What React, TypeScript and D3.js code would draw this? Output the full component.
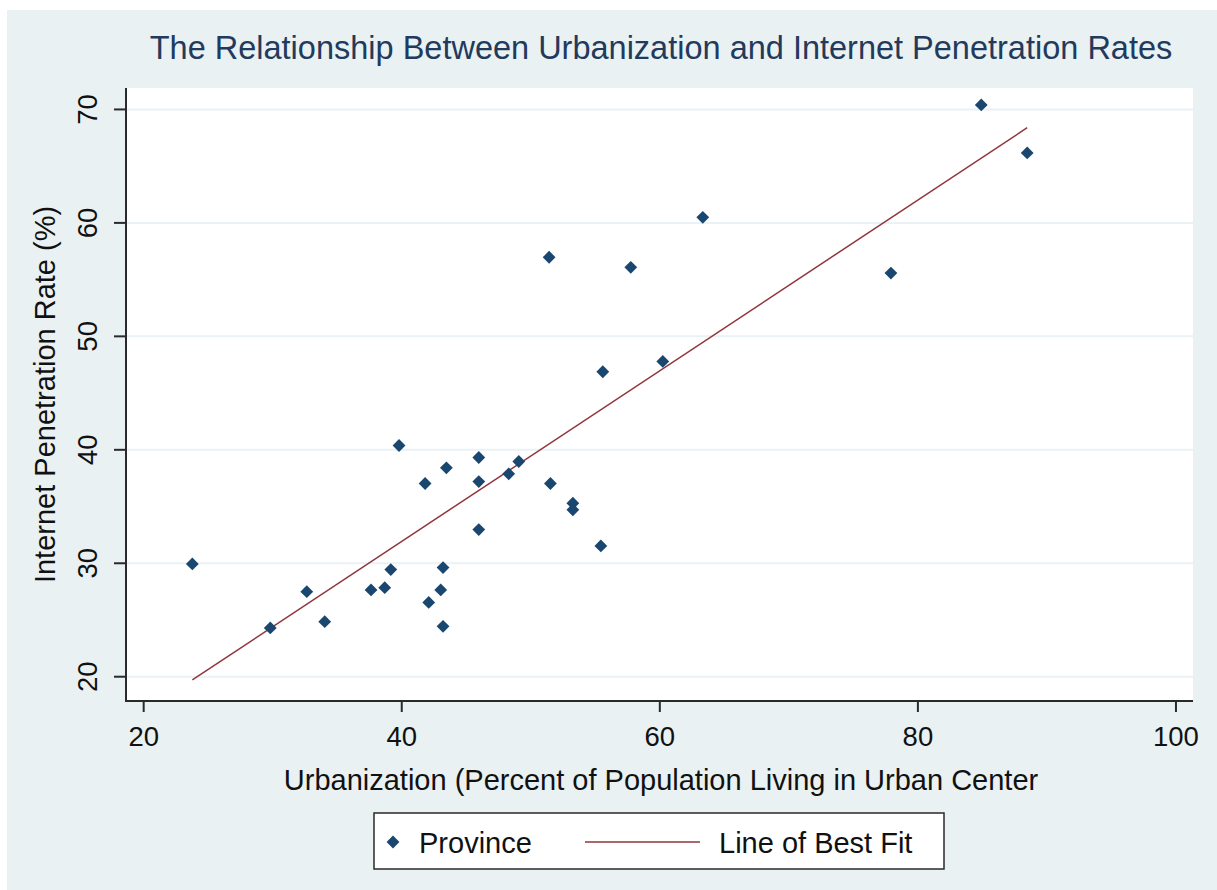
import React from 'react';
import * as d3 from 'd3';

// urbanization (% of population in urban centres) per province
const urbanization = [
  23.77, 29.81, 32.64, 34.03, 37.62, 38.68, 39.15, 39.79, 41.81, 42.09, 43.46,
  43.02, 43.2, 43.2, 45.97, 45.97, 45.97, 48.29, 49.07, 51.52, 53.26, 53.26,
  55.43, 51.42, 55.58, 57.75, 60.23, 63.33, 77.91, 84.91, 88.47,
];
// internet penetration rate (%) per province
const internetRate = [
  29.94, 24.3, 27.5, 24.85, 27.65, 27.85, 29.44, 40.38, 37.03, 26.55, 38.41,
  27.65, 29.62, 24.44, 39.32, 37.2, 32.97, 37.88, 38.97, 37.03, 35.29, 34.71,
  31.53, 56.97, 46.88, 56.08, 47.79, 60.49, 55.58, 70.4, 66.17,
];
const xTicks = [20, 40, 60, 80, 100];
const yTicks = [20, 30, 40, 50, 60, 70];

const W = 1217;
const H = 890;
const plot = { left: 126, right: 1193, top: 88, bottom: 701 };
const FONT = '"Liberation Sans", Arial, sans-serif';
const NAVY = '#1a476f';
const MAROON = '#90353b';

const App = () => {
  const x = d3.scaleLinear().domain([18.63, 101.32]).range([plot.left, plot.right]);
  const y = d3.scaleLinear().domain([17.86, 71.89]).range([plot.bottom, plot.top]);

  // least squares fit
  const mx = d3.mean(urbanization)!;
  const my = d3.mean(internetRate)!;
  const sxy = d3.sum(urbanization, (v, i) => (v - mx) * (internetRate[i] - my));
  const sxx = d3.sum(urbanization, v => (v - mx) ** 2);
  const slope = sxy / sxx;
  const icpt = my - slope * mx;
  const [x0, x1] = d3.extent(urbanization) as [number, number];
  const fitLine = d3.line<number>().x(v => x(v)).y(v => y(icpt + slope * v))([x0, x1]);

  const diamond = d3.symbol(d3.symbolSquare, 82)()!;

  return (
    <svg width={W} height={H} style={{ position: 'absolute', left: 0, top: 0 }} fontFamily={FONT}>
      <rect x={0} y={0} width={W} height={H} fill="#fff" />
      <rect x={7} y={10} width={W - 7} height={H - 10} fill="#e9f1f3" />
      <rect x={plot.left} y={plot.top} width={plot.right - plot.left} height={plot.bottom - plot.top} fill="#fff" />

      {/* grid */}
      {yTicks.map(t => (
        <line key={t} x1={plot.left} x2={plot.right} y1={y(t)} y2={y(t)} stroke="#eaf2f5" strokeWidth={2} />
      ))}

      {/* fit line */}
      <path d={fitLine!} fill="none" stroke={MAROON} strokeWidth={1.5} />

      {/* points */}
      {urbanization.map((v, i) => (
        <path key={i} d={diamond} fill={NAVY} transform={`translate(${x(v)},${y(internetRate[i])}) rotate(45)`} />
      ))}

      {/* axes */}
      <line x1={plot.left} x2={plot.left} y1={plot.top} y2={plot.bottom + 1} stroke="#2a2a2a" strokeWidth={2} />
      <line x1={plot.left - 1} x2={plot.right} y1={plot.bottom} y2={plot.bottom} stroke="#2a2a2a" strokeWidth={2} />
      {yTicks.map(t => (
        <g key={t}>
          <line x1={plot.left - 12} x2={plot.left} y1={y(t)} y2={y(t)} stroke="#2a2a2a" strokeWidth={2} />
          <text transform={`translate(97,${y(t)}) rotate(-90)`} textAnchor="middle" fontSize={27.5} fill="#111">{t}</text>
        </g>
      ))}
      {xTicks.map(t => (
        <g key={t}>
          <line x1={x(t)} x2={x(t)} y1={plot.bottom} y2={plot.bottom + 11} stroke="#2a2a2a" strokeWidth={2} />
          <text x={x(t)} y={746} textAnchor="middle" fontSize={27.5} fill="#111">{t}</text>
        </g>
      ))}

      {/* titles */}
      <text x={661} y={59} textAnchor="middle" fontSize={32.5} fill="#223a5c">
        The Relationship Between Urbanization and Internet Penetration Rates
      </text>
      <text x={661} y={790} textAnchor="middle" fontSize={29} fill="#111">
        Urbanization (Percent of Population Living in Urban Center
      </text>
      <text transform={`translate(55,${(plot.top + plot.bottom) / 2}) rotate(-90)`} textAnchor="middle" fontSize={29} fill="#111">
        Internet Penetration Rate (%)
      </text>

      {/* legend */}
      <rect x={374} y={813} width={570} height={56} fill="#fff" stroke="#2a2a2a" strokeWidth={1.5} />
      <path d={diamond} fill={NAVY} transform="translate(393,842) rotate(45)" />
      <text x={419} y={853} fontSize={29} fill="#111">Province</text>
      <line x1={585} x2={700} y1={842} y2={842} stroke={MAROON} strokeWidth={1.5} />
      <text x={719} y={853} fontSize={29} fill="#111">Line of Best Fit</text>
    </svg>
  );
};

export default App;
